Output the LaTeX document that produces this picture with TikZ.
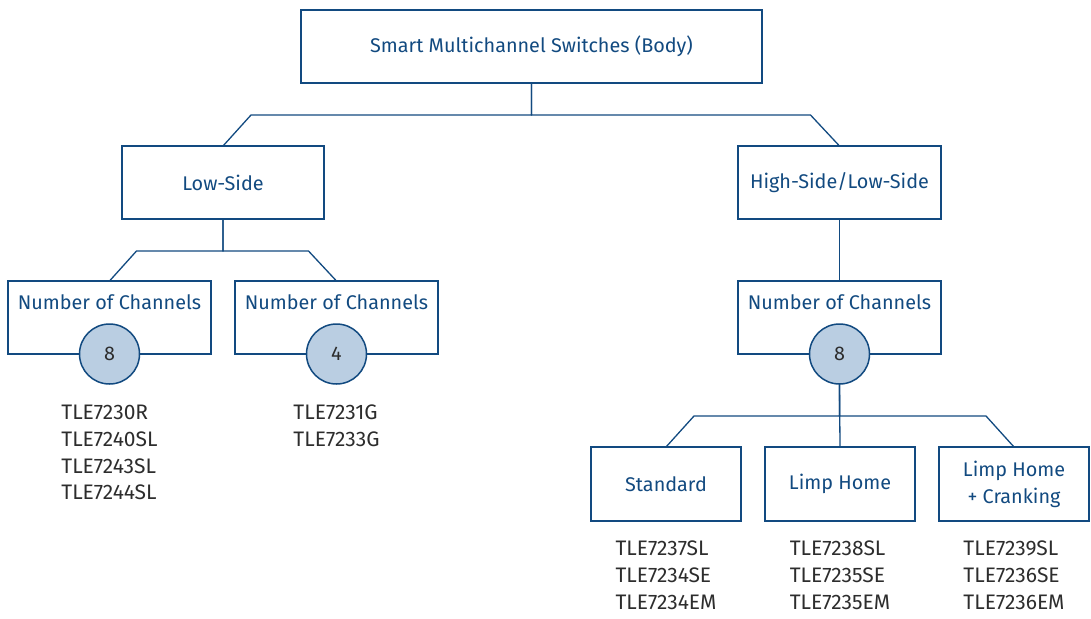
\documentclass[tikz,border=0pt]{standalone}
\usepackage{fontspec}
\setmainfont{Fira Sans}
\usetikzlibrary{positioning}
\definecolor{boxblue}{RGB}{18,74,128}
\definecolor{circfill}{RGB}{186,206,226}
\definecolor{listgray}{RGB}{45,45,45}
\begin{document}
\begin{tikzpicture}[x=1pt, y=-1pt, font=\fontsize{19.8}{27}\selectfont,
    box/.style={draw=boxblue, line width=2pt, text=boxblue, outer sep=0pt, minimum height=73pt, align=center},
    count/.style={circle, draw=boxblue, line width=1.5pt, fill=circfill, text=listgray, minimum size=60pt, inner sep=0pt, outer sep=0pt},
    parts/.style={text=listgray, align=left, inner sep=0pt, anchor=north, font=\fontsize{21}{26.7}\selectfont},
    link/.style={draw=boxblue, line width=1.3pt}]
    \useasboundingbox (0, 0) rectangle (1091, 618);
    % top levels
    \node[box, minimum width=461pt](top) at (531.5, 46.5){Smart Multichannel Switches (Body)};
    \node[box, minimum width=202pt](low) at (223, 182.5){Low-Side};
    \node[box, minimum width=203pt](high) at (839.5, 182.5){High-Side/Low-Side};
    \draw[link](low.north)--++(28, -31)-|(top.south);
    \draw[link](high.north)--++(-29, -31)-|(top.south);
    % channel boxes
    \node[box, minimum width=203pt, label={[text=boxblue, anchor=center, yshift=-21pt]north:Number of Channels}](chA) at (109.5, 317.5){};
    \node[box, minimum width=203pt, label={[text=boxblue, anchor=center, yshift=-21pt]north:Number of Channels}](chB) at (336.5, 317.5){};
    \node[box, minimum width=203pt, label={[text=boxblue, anchor=center, yshift=-21pt]north:Number of Channels}](chC) at (839.5, 317.5){};
    \draw[link](chA.north)--++(27, -30)-|(low.south);
    \draw[link](chB.north)--++(-28, -30)-|(low.south);
    \draw[link](high.south)--(chC.north);
    \node[count](nA) at (chA.south){8};
    \node[count](nB) at (chB.south){4};
    \node[count](nC) at (chC.south){8};
    \node[parts, below=21pt of nA](pA){TLE7230R\\TLE7240SL\\TLE7243SL\\TLE7244SL};
    \node[parts, below=21pt of nB](pB){TLE7231G\\TLE7233G};
    % variants
    \node[box, minimum width=150pt, minimum height=74pt](std) at (666, 484){Standard};
    \node[box, minimum width=150pt, minimum height=74pt](limp) at (840, 484){Limp Home};
    \node[box, minimum width=150pt, minimum height=74pt](crank) at (1014, 484){Limp Home\\+ Cranking};
    \draw[link](std.north)--++(28, -31)-|(nC.south);
    \draw[link](crank.north)--++(-28, -31)-|(nC.south);
    \draw[link](nC.south)--(limp.north);
    \node[parts, below=20pt of std](pS){TLE7237SL\\TLE7234SE\\TLE7234EM};
    \node[parts, below=20pt of limp](pL){TLE7238SL\\TLE7235SE\\TLE7235EM};
    \node[parts, below=20pt of crank](pC){TLE7239SL\\TLE7236SE\\TLE7236EM};
\end{tikzpicture}
\end{document}
